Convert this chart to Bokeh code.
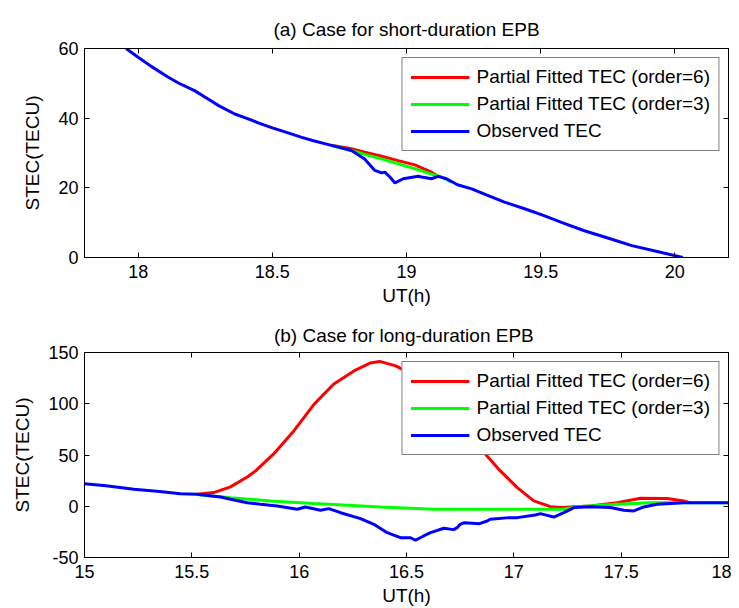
from bokeh.plotting import figure
from bokeh.models import LinearAxis, FixedTicker, NumeralTickFormatter, Title
from bokeh.layouts import column
from bokeh.embed import file_html
from bokeh.resources import INLINE

FONT = "Liberation Sans"

# ---------------- Panel (a): short-duration EPB ----------------
a_obs_t = [17.955, 18.00, 18.05, 18.111, 18.15, 18.21, 18.25, 18.30, 18.36, 18.40, 18.45, 18.50,
           18.55, 18.61, 18.65, 18.72, 18.795, 18.844, 18.882, 18.907, 18.919, 18.938, 18.957,
           18.988, 19.044, 19.056, 19.093, 19.118, 19.149, 19.19, 19.243, 19.30, 19.365, 19.44,
           19.51, 19.58, 19.66, 19.75, 19.84, 19.93, 20.03]
a_obs_v = [60.0, 57.5, 54.8, 51.8, 50.1, 47.9, 46.0, 43.6, 41.2, 40.1, 38.6, 37.2,
           36.0, 34.5, 33.6, 32.2, 30.7, 28.3, 25.0, 24.3, 24.5, 23.1, 21.4,
           22.6, 23.3, 23.1, 22.6, 23.3, 22.6, 20.9, 19.7, 17.9, 15.9, 14.0,
           12.1, 10.0, 7.75, 5.6, 3.4, 1.8, 0.0]
a_fit6_t = [18.72, 18.795, 18.844, 18.90, 18.969, 19.031, 19.093, 19.118]
a_fit6_v = [32.2, 31.2, 30.2, 29.2, 27.8, 26.6, 24.5, 23.3]
a_fit3_t = [18.72, 18.795, 18.844, 18.907, 18.969, 19.031, 19.09, 19.13, 19.168]
a_fit3_v = [32.2, 30.7, 29.6, 28.3, 26.9, 25.5, 24.0, 23.1, 21.6]

a_xticks = [18, 18.5, 19, 19.5, 20]
a_yticks = [0, 20, 40, 60]

# ---------------- Panel (b): long-duration EPB ----------------
b_obs_t = [15.0, 15.1, 15.23, 15.35, 15.447, 15.525, 15.634, 15.68, 15.758, 15.82, 15.898,
           15.991, 16.029, 16.099, 16.138, 16.193, 16.286, 16.348, 16.41, 16.472, 16.519,
           16.542, 16.58, 16.612, 16.674, 16.72, 16.736, 16.75, 16.77, 16.84, 16.876, 16.89,
           16.98, 17.016, 17.10, 17.124, 17.186, 17.233, 17.28, 17.357, 17.45, 17.512, 17.559,
           17.605, 17.667, 17.79, 18.0]
b_obs_v = [22.0, 20.0, 16.6, 14.5, 12.3, 11.7, 9.1, 6.8, 3.5, 2.0, 0.3,
           -2.9, -0.7, -3.9, -2.3, -6.3, -12.1, -17.6, -25.8, -30.7, -30.7,
           -33.2, -29.0, -25.8, -21.5, -22.8, -20.9, -17.6, -16.0, -17.0, -14.4, -12.7,
           -11.1, -11.1, -8.5, -7.2, -10.5, -6.3, -1.3, -0.4, -1.3, -3.9, -4.6,
           -0.7, 2.0, 3.5, 3.5]
b_fit6_t = [15.525, 15.602, 15.68, 15.758, 15.797, 15.88, 15.975, 16.07, 16.16, 16.255, 16.33,
            16.375, 16.45, 16.55, 16.65, 16.75, 16.80, 16.868, 16.937, 17.016, 17.093, 17.171,
            17.217, 17.357, 17.481, 17.59, 17.714, 17.792, 17.82]
b_fit6_v = [11.7, 13.3, 18.9, 28.6, 34.5, 50.8, 73.5, 99.6, 119.0, 132.0, 139.7,
            141.3, 137.0, 126.0, 106.0, 83.0, 67.0, 50.8, 34.5, 18.2, 5.2, -0.4,
            -1.3, 0.3, 3.5, 7.8, 7.5, 5.2, 3.5]
b_fit3_t = [15.525, 15.54, 15.68, 15.866, 16.068, 16.379, 16.627, 16.75, 17.0, 17.233, 17.295,
            17.48, 17.635, 18.0]
b_fit3_v = [11.7, 11.0, 8.4, 5.2, 2.6, -0.7, -2.9, -2.9, -2.9, -2.9, -0.4,
            2.0, 3.5, 3.5]

b_xticks = [15, 15.5, 16, 16.5, 17, 17.5, 18]
b_yticks = [-50, 0, 50, 100, 150]

LABEL6 = "Partial Fitted TEC (order=6)"
LABEL3 = "Partial Fitted TEC (order=3)"
LABELO = "Observed TEC"


def style_axis(ax, ticks, show_labels=True):
    ax.ticker = FixedTicker(ticks=ticks)
    ax.formatter = NumeralTickFormatter(format="0.[0]")
    ax.minor_tick_line_color = None
    ax.major_tick_in = 5
    ax.major_tick_out = 0
    ax.axis_line_color = "black"
    ax.major_tick_line_color = "black"
    ax.major_label_text_font = FONT
    if show_labels:
        ax.major_label_text_font_size = "18px"
        ax.major_label_text_color = "black"
    else:
        ax.major_label_text_font_size = "1px"
        ax.major_label_text_color = None
        ax.major_label_standoff = 0
    ax.axis_label_text_font = FONT
    ax.axis_label_text_font_size = "19px"
    ax.axis_label_text_font_style = "normal"
    ax.axis_label_text_color = "black"


def make_panel(title, title_standoff, xr, yr, xticks, yticks, height, top, bottom,
               obs_t, obs_v, f6_t, f6_v, f3_t, f3_v):
    p = figure(width=731, height=height, x_range=xr, y_range=yr,
               output_backend="svg", toolbar_location=None,
               min_border_left=84, min_border_right=3,
               min_border_top=top, min_border_bottom=bottom,
               x_axis_label="UT(h)", y_axis_label="STEC(TECU)")
    p.grid.visible = False
    p.outline_line_color = "black"
    p.background_fill_color = "white"
    p.border_fill_color = "white"

    style_axis(p.xaxis[0], xticks)
    style_axis(p.yaxis[0], yticks)
    p.xaxis[0].major_label_standoff = 7
    p.xaxis[0].axis_label_standoff = 4
    p.yaxis[0].major_label_standoff = 6
    p.yaxis[0].axis_label_standoff = 12

    top_ax = LinearAxis()
    style_axis(top_ax, xticks, show_labels=False)
    p.add_layout(top_ax, "above")
    right_ax = LinearAxis()
    style_axis(right_ax, yticks, show_labels=False)
    p.add_layout(right_ax, "right")

    t = Title(text=title, align="center", text_font=FONT, text_font_size="19px",
              text_font_style="normal", text_color="black", standoff=title_standoff)
    p.add_layout(t, "above")

    p.line(f6_t, f6_v, line_color="#ff0000", line_width=3, legend_label=LABEL6)
    p.line(f3_t, f3_v, line_color="#00ff00", line_width=3, legend_label=LABEL3)
    p.line(obs_t, obs_v, line_color="#0000ff", line_width=3, legend_label=LABELO)

    lg = p.legend[0]
    lg.location = "top_right"
    lg.margin = 9
    lg.padding = 8
    lg.spacing = 5
    lg.glyph_width = 59
    lg.glyph_height = 20
    lg.label_height = 20
    lg.label_standoff = 7
    lg.label_text_font = FONT
    lg.label_text_font_size = "19px"
    lg.label_text_color = "black"
    lg.border_line_color = "black"
    lg.border_line_width = 1
    lg.background_fill_color = "white"
    lg.background_fill_alpha = 1.0
    return p


p1 = make_panel("(a) Case for short-duration EPB", 17, (17.8, 20.2), (0, 60), a_xticks, a_yticks,
                308, 48, 51, a_obs_t, a_obs_v, a_fit6_t, a_fit6_v, a_fit3_t, a_fit3_v)
p2 = make_panel("(b)  Case for long-duration EPB", 13, (15, 18), (-50, 150), b_xticks, b_yticks,
                300, 44, 51, b_obs_t, b_obs_v, b_fit6_t, b_fit6_v, b_fit3_t, b_fit3_v)

p = column(p1, p2, spacing=0)
open("out.html", "w").write(file_html(p, INLINE))
